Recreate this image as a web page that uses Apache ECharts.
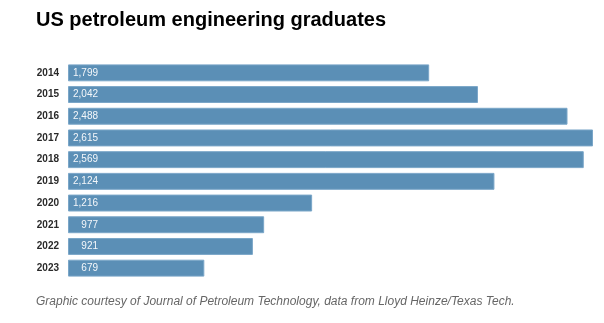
<!DOCTYPE html>
<html>
<head>
<meta charset="utf-8">
<script src="https://cdn.jsdelivr.net/npm/echarts@6/dist/echarts.min.js"></script>
<style>
  html, body { margin: 0; padding: 0; background: #ffffff; }
  #chart { width: 604px; height: 323px; }
</style>
</head>
<body>
<div id="chart"></div>
<script>
// Graduating years, top to bottom
const years = ['2014', '2015', '2016', '2017', '2018', '2019', '2020', '2021', '2022', '2023'];
// Petroleum engineering graduates per year
const graduates = [1799, 2042, 2488, 2615, 2569, 2124, 1216, 977, 921, 679];

const titleText = 'US petroleum engineering graduates';
const sourceText = 'Graphic courtesy of Journal of Petroleum Technology, data from Lloyd Heinze/Texas Tech.';

const chart = echarts.init(document.getElementById('chart'), null, { renderer: 'canvas' });

chart.setOption({
  backgroundColor: '#ffffff',
  animation: false,
  title: [
    {
      text: titleText,
      left: 31,
      top: 5,
      textStyle: {
        fontFamily: 'Liberation Sans, Arial, sans-serif',
        fontWeight: 'bold',
        fontSize: 20,
        color: '#000000'
      }
    },
    {
      text: sourceText,
      left: 31,
      top: 291,
      textStyle: {
        fontFamily: 'Liberation Sans, Arial, sans-serif',
        fontStyle: 'italic',
        fontWeight: 'normal',
        fontSize: 12,
        color: '#666666'
      }
    }
  ],
  grid: {
    left: 68,
    right: 11,
    top: 62,
    bottom: 44,
    containLabel: false
  },
  xAxis: {
    type: 'value',
    min: 0,
    max: 2615,
    show: false
  },
  yAxis: {
    type: 'category',
    data: years,
    inverse: true,
    axisLine: { show: false },
    axisTick: { show: false },
    splitLine: { show: false },
    axisLabel: {
      margin: 9,
      fontFamily: 'Liberation Sans, Arial, sans-serif',
      fontSize: 10,
      fontWeight: 'bold',
      color: '#2a2a2a'
    }
  },
  series: [
    {
      type: 'bar',
      data: graduates,
      barCategoryGap: '22%',
      itemStyle: {
        color: '#5b8fb6',
        borderColor: '#7aa6c8',
        borderWidth: 1
      },
      label: {
        show: true,
        position: [30, '50%'],
        align: 'right',
        verticalAlign: 'middle',
        fontFamily: 'Liberation Sans, Arial, sans-serif',
        fontSize: 10,
        color: '#f4f7fa',
        formatter: (p) => p.value.toLocaleString('en-US')
      }
    }
  ]
});
</script>
</body>
</html>
